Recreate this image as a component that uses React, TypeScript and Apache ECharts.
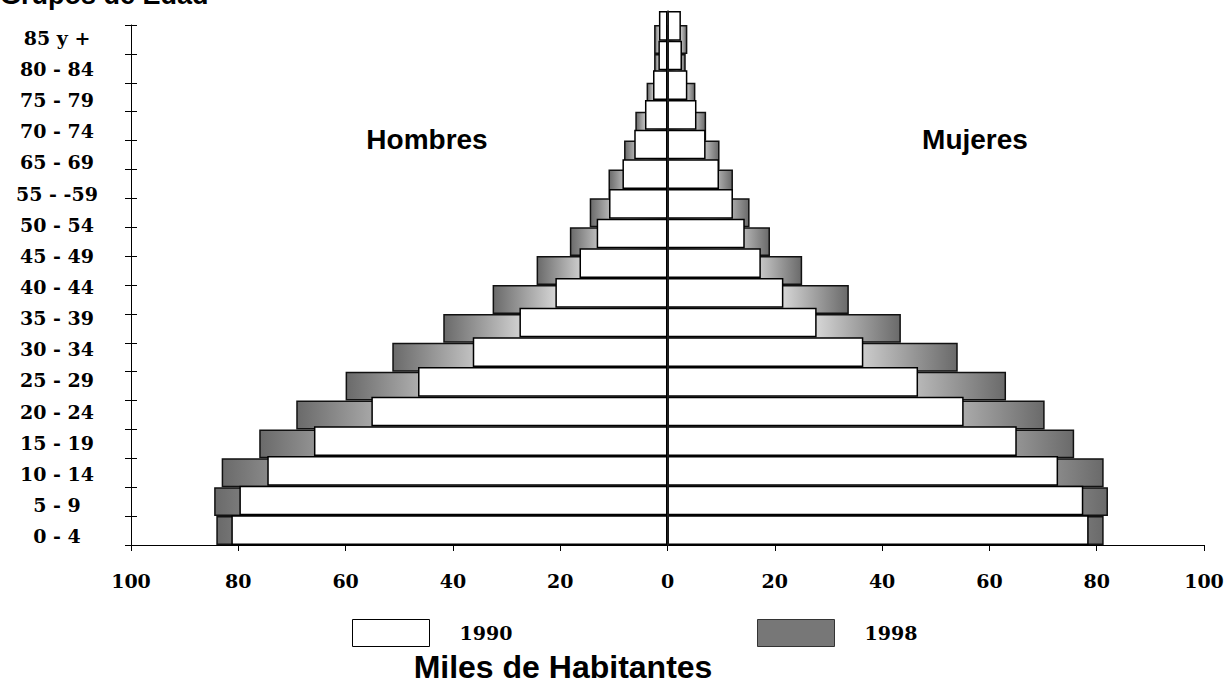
import React, { useEffect, useRef } from 'react';
import * as echarts from 'echarts';

// Age groups (bottom to top), 18 rows
const ageGroups = ['0-4', '5-9', '10-14', '15-19', '20-24', '25-29', '30-34', '35-39', '40-44', '45-49', '50-54', '55-59', '60-64', '65-69', '70-74', '75-79', '80-84', '85+'];
// Tick labels as printed on the chart (17 labels, bottom to top)
const ageLabels = ['0 - 4', '5 - 9', '10 - 14', '15 - 19', '20 - 24', '25 - 29', '30 - 34', '35 - 39', '40 - 44', '45 - 49', '50 - 54', '55 - -59', '65 - 69', '70 - 74', '75 - 79', '80 - 84', '85 y +'];

// Thousands of inhabitants
const men1990 = [81.3, 79.8, 74.6, 65.9, 55.2, 46.5, 36.3, 27.6, 20.9, 16.4, 13.2, 10.9, 8.4, 6.2, 4.2, 2.7, 1.7, 1.6];
const women1990 = [78.5, 77.5, 72.8, 65.1, 55.2, 46.7, 36.5, 27.8, 21.6, 17.4, 14.4, 12.2, 9.6, 7.1, 5.4, 3.7, 2.7, 2.5];
const men1998 = [84.1, 84.5, 83.1, 76.1, 69.2, 60.0, 51.3, 41.8, 32.6, 24.4, 18.2, 14.5, 11.0, 8.1, 6.0, 3.9, 2.5, 2.5];
const women1998 = [81.3, 82.1, 81.3, 75.8, 70.3, 63.1, 54.1, 43.5, 33.8, 25.1, 19.1, 15.3, 12.2, 9.7, 7.2, 5.2, 3.4, 3.7];

const xMin = -100;
const xMax = 100;
const xInterval = 20;

const serifFont = 'DejaVu Serif';
const sansFont = 'Liberation Sans, Arial, sans-serif';

const grayGradient = () => ({
  type: 'linear',
  x: 0,
  y: 0,
  x2: 1,
  y2: 0,
  colorStops: [
    { offset: 0, color: '#6a6a6a' },
    { offset: 0.5, color: '#ffffff' },
    { offset: 1, color: '#6a6a6a' },
  ],
});

export default function App() {
  const ref = useRef<HTMLDivElement>(null);

  useEffect(() => {
    if (!ref.current) return;
    const chart = echarts.init(ref.current, undefined, { renderer: 'svg' });
    const gridLeft = 131;
    const gridWidth = 1073;
    const labelStyle = {
      fontFamily: serifFont,
      fontWeight: 'bold' as const,
      fontSize: 19,
      color: '#000',
    };

    chart.setOption({
      animation: false,
      backgroundColor: '#ffffff',
      grid: [
        { left: gridLeft, width: gridWidth, top: 25, height: 520 },
        { left: gridLeft, width: gridWidth, top: 11, height: 534 },
        { left: gridLeft, width: gridWidth, top: 22.4, height: 529.2 },
      ],
      xAxis: [
        {
          gridIndex: 0,
          type: 'value',
          min: xMin,
          max: xMax,
          interval: xInterval,
          axisLine: { show: true, onZero: false, lineStyle: { color: '#000', width: 1 } },
          axisTick: { show: true, length: 6, lineStyle: { color: '#000', width: 1 } },
          splitLine: { show: false },
          axisLabel: {
            ...labelStyle,
            margin: 26,
            formatter: (v: number) => String(Math.abs(v)),
          },
        },
        { gridIndex: 1, type: 'value', min: xMin, max: xMax, show: false },
        { gridIndex: 2, type: 'value', min: xMin, max: xMax, show: false },
      ],
      yAxis: [
        {
          gridIndex: 0,
          type: 'category',
          data: ageGroups,
          position: 'left',
          axisLine: { show: true, onZero: false, lineStyle: { color: '#000', width: 1 } },
          axisTick: { show: true, length: 6, lineStyle: { color: '#000', width: 1 } },
          axisLabel: { show: false },
        },
        {
          gridIndex: 0,
          type: 'category',
          data: ageGroups,
          position: 'left',
          axisLine: { show: false, onZero: false },
          axisTick: { show: true, inside: true, length: 6, lineStyle: { color: '#000', width: 1 } },
          axisLabel: { show: false },
        },
        {
          gridIndex: 1,
          type: 'category',
          data: ageGroups,
          z: 10,
          axisLine: { show: true, onZero: true, lineStyle: { color: '#222', width: 1.5 } },
          axisTick: { show: false },
          axisLabel: { show: false },
        },
        {
          gridIndex: 2,
          type: 'category',
          data: ageLabels,
          position: 'left',
          axisLine: { show: false, onZero: false },
          axisTick: { show: false },
          axisLabel: { ...labelStyle, align: 'center', margin: 74 },
        },
      ],
      legend: [
        {
          data: [{ name: '1990', itemStyle: { color: '#ffffff', borderColor: '#000', borderWidth: 1 } }],
          left: 352,
          top: 619,
          padding: 0,
          icon: 'rect',
          itemWidth: 77,
          itemHeight: 27,
          selectedMode: false,
          textStyle: { ...labelStyle, padding: [0, 0, 0, 25] },
        },
        {
          data: [{ name: '1998', itemStyle: { color: '#777777', borderColor: '#333', borderWidth: 1 } }],
          left: 757,
          top: 619,
          padding: 0,
          icon: 'rect',
          itemWidth: 77,
          itemHeight: 27,
          selectedMode: false,
          textStyle: { ...labelStyle, padding: [0, 0, 0, 25] },
        },
      ],
      graphic: [
        {
          type: 'text',
          x: 0,
          y: 8,
          style: { text: 'Grupos de Edad', font: `bold 27px ${sansFont}`, fill: '#000', align: 'left', verticalAlign: 'bottom' },
        },
        {
          type: 'text',
          x: 427,
          y: 139,
          style: { text: 'Hombres', font: `bold 28px ${sansFont}`, fill: '#000', align: 'center', verticalAlign: 'middle' },
        },
        {
          type: 'text',
          x: 975,
          y: 139,
          style: { text: 'Mujeres', font: `bold 28px ${sansFont}`, fill: '#000', align: 'center', verticalAlign: 'middle' },
        },
        {
          type: 'text',
          x: 563,
          y: 667,
          style: { text: 'Miles de Habitantes', font: `bold 32px ${sansFont}`, fill: '#000', align: 'center', verticalAlign: 'middle' },
        },
      ],
      series: [
        {
          name: '1998',
          type: 'bar',
          xAxisIndex: 0,
          yAxisIndex: 0,
          data: men1998.map((v) => -v),
          barWidth: '100%',
          barGap: '-100%',
          z: 2,
          itemStyle: { color: grayGradient(), borderColor: '#111', borderWidth: 1.5 },
        },
        {
          name: '1998',
          type: 'bar',
          xAxisIndex: 0,
          yAxisIndex: 0,
          data: women1998,
          barWidth: '100%',
          barGap: '-100%',
          z: 2,
          itemStyle: { color: grayGradient(), borderColor: '#111', borderWidth: 1.5 },
        },
        {
          name: '1990',
          type: 'bar',
          xAxisIndex: 1,
          yAxisIndex: 2,
          data: men1990.map((v) => -v),
          barWidth: '100%',
          barGap: '-100%',
          z: 3,
          itemStyle: { color: '#ffffff', borderColor: '#000', borderWidth: 1.5 },
        },
        {
          name: '1990',
          type: 'bar',
          xAxisIndex: 1,
          yAxisIndex: 2,
          data: women1990,
          barWidth: '100%',
          barGap: '-100%',
          z: 3,
          itemStyle: { color: '#ffffff', borderColor: '#000', borderWidth: 1.5 },
        },
      ],
    });

    return () => chart.dispose();
  }, []);

  return (
    <div
      ref={ref}
      style={{ position: 'fixed', left: 0, top: 0, width: 1231, height: 685, background: '#fff' }}
    />
  );
}
